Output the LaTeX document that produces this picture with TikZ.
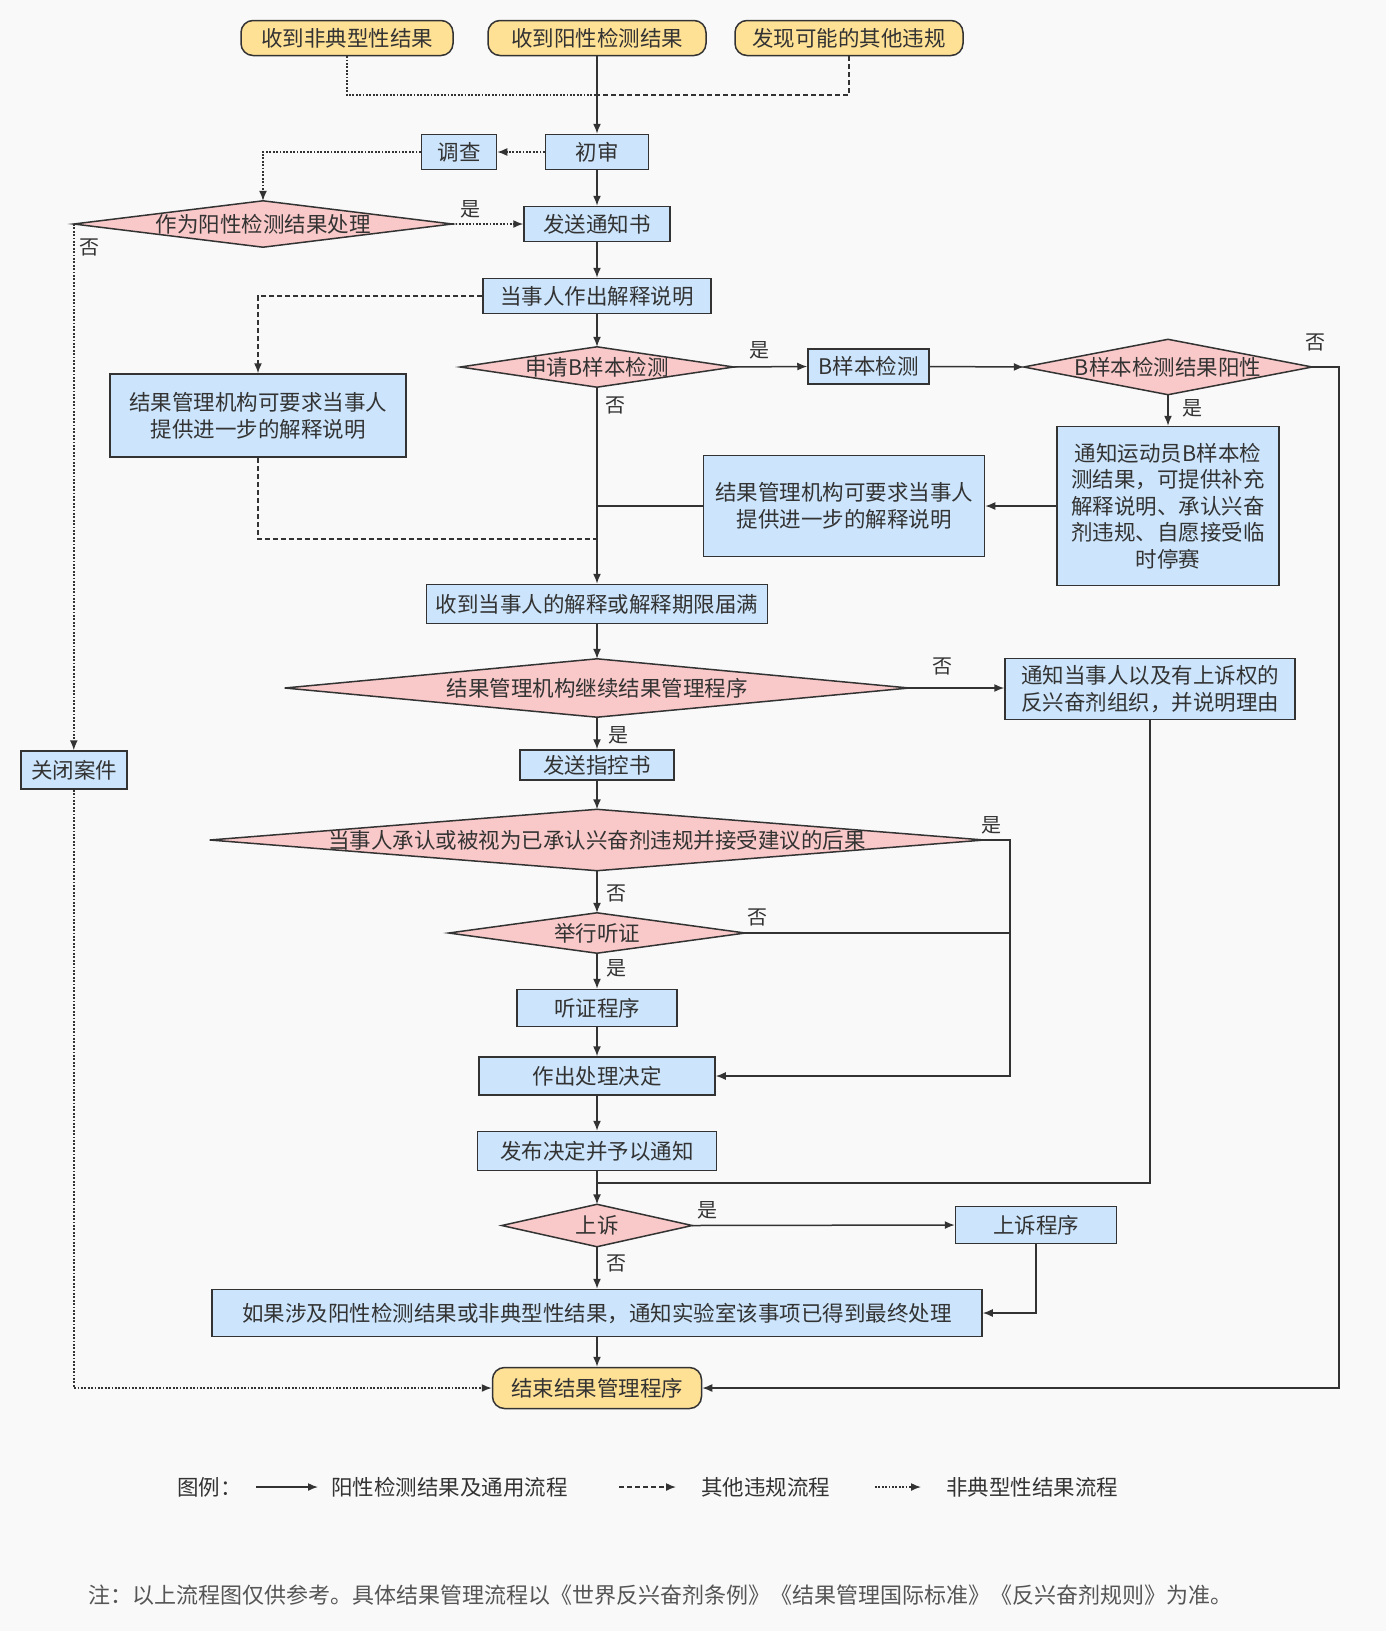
\documentclass[tikz,border=0pt]{standalone}
\usepackage{fontspec}
\setmainfont{Noto Sans CJK SC}
\usetikzlibrary{arrows.meta}
\pgfdeclarelayer{bg}
\pgfsetlayers{bg,main}
\definecolor{bgc}{HTML}{F9F9F9}
\definecolor{lnc}{HTML}{333333}
\definecolor{yel}{HTML}{FFE196}
\definecolor{blu}{HTML}{CCE5FC}
\definecolor{pnk}{HTML}{F9C8C8}
\definecolor{txt}{HTML}{333333}
\definecolor{notec}{HTML}{555555}
\newcommand\mydiam[1]{\path[fill=pnk, draw=lnc, line width=1.5pt, line join=miter] (#1.north) -- (#1.east) -- (#1.south) -- (#1.west) -- cycle;}
\begin{document}
\begin{tikzpicture}[x=1pt,y=-1pt,
  every node/.style={text=txt, font=\fontsize{21.5}{27}\selectfont},
  sz/.style 2 args={minimum width=#1pt, minimum height=#2pt},
  box/.style={draw=lnc, line width=1.5pt, fill=blu, inner sep=0pt, align=center},
  term/.style={box, fill=yel, rounded corners=12pt},
  dtext/.style={inner sep=0pt, align=center},
  lab/.style={font=\fontsize{20}{24}\selectfont, inner sep=0pt},
  conn/.style={draw=lnc, line width=1.5pt},
  arr/.style={conn, -{Latex[length=10pt,width=8pt]}},
  dashl/.style={dash pattern=on 5pt off 3pt},
  dotl/.style={dash pattern=on 1.8pt off 1.6pt},
]
\useasboundingbox (0,0) rectangle (1386,1631);
\begin{pgfonlayer}{bg}
\fill[bgc] (0,0) rectangle (1386,1631);
\end{pgfonlayer}

% nodes
\node[term, sz={212}{35}] (A) at (347,38) {收到非典型性结果};
\node[term, sz={218}{35}] (B) at (597,38) {收到阳性检测结果};
\node[term, sz={228}{35}] (C) at (849,38) {发现可能的其他违规};
\coordinate (m) at (597,95);
\node[box, sz={103}{35}] (cs) at (597,152) {初审};
\node[box, sz={75}{35}] (dc) at (459,152) {调查};
\node[dtext, sz={378}{46}] (d1) at (263,224) {作为阳性检测结果处理};
\node[box, sz={146}{35}] (tz) at (597,224) {发送通知书};
\node[box, sz={228}{35}] (js) at (597,296) {当事人作出解释说明};
\node[box, sz={296}{83}] (lb) at (258,415.5) {结果管理机构可要求当事人\\提供进一步的解释说明};
\node[dtext, sz={273}{40}] (d2) at (597,367) {申请B样本检测};
\node[box, sz={121}{35}] (bj) at (868.5,366.5) {B样本检测};
\node[dtext, sz={288}{55}] (d3) at (1168,367) {B样本检测结果阳性};
\node[box, sz={222}{159}, font=\fontsize{21.5}{26.5}\selectfont] (nb) at (1168,506) {通知运动员B样本检\\测结果，可提供补充\\解释说明、承认兴奋\\剂违规、自愿接受临\\时停赛};
\node[box, sz={281}{101}] (mb) at (844,506) {结果管理机构可要求当事人\\提供进一步的解释说明};
\node[box, sz={341}{39}] (sd) at (597,604) {收到当事人的解释或解释期限届满};
\node[dtext, sz={624}{58}] (d4) at (597,688) {结果管理机构继续结果管理程序};
\node[box, sz={290}{61}] (n2) at (1150,689) {通知当事人以及有上诉权的\\反兴奋剂组织，并说明理由};
\node[box, sz={154}{30}] (zk) at (597,765) {发送指控书};
\node[box, sz={106}{38}] (gb) at (74,770) {关闭案件};
\node[dtext, sz={774}{61}] (d5) at (597,840) {当事人承认或被视为已承认兴奋剂违规并接受建议的后果};
\node[dtext, sz={296}{40}] (d6) at (597,933) {举行听证};
\node[box, sz={160}{37}] (tzc) at (597,1008) {听证程序};
\node[box, sz={236}{38}] (zc) at (597,1076) {作出处理决定};
\node[box, sz={239}{39}] (fb) at (597,1151) {发布决定并予以通知};
\node[dtext, sz={190}{42}] (d7) at (597,1225.5) {上诉};
\node[box, sz={161}{37}] (ss) at (1036,1225) {上诉程序};
\node[box, sz={770}{47}] (rg) at (597,1313) {如果涉及阳性检测结果或非典型性结果，通知实验室该事项已得到最终处理};
\node[term, sz={209}{41}] (fin) at (597,1388) {结束结果管理程序};

\begin{pgfonlayer}{bg}
\mydiam{d1}\mydiam{d2}\mydiam{d3}\mydiam{d4}\mydiam{d5}\mydiam{d6}\mydiam{d7}
\end{pgfonlayer}

% connectors
\draw[conn, dotl] (A.south) |- (m);
\draw[conn, dashl] (C.south) |- (m);
\draw[arr] (B.south) -- (cs.north);
\draw[arr, dotl] (cs.west) -- (dc.east);
\draw[arr, dotl] (dc.west) -| (d1.north);
\draw[arr, dotl] (d1.east) -- (tz.west);
\draw[arr, dotl] (d1.west) -- (d1.west |- gb.north);
\draw[arr] (cs.south) -- (tz.north);
\draw[arr] (tz.south) -- (js.north);
\draw[arr, dashl] (js.west) -| (lb.north);
\draw[arr] (js.south) -- (d2.north);
\draw[arr] (d2.east) -- (bj.west);
\draw[arr] (bj.east) -- (d3.west);
\draw[arr] (d3.south) -- (nb.north);
\coordinate (r1) at (1339,367);
\draw[arr] (d3.east) -- (r1) |- (fin.east);
\draw[arr] (nb.west) -- (mb.east);
\draw[conn] (mb.west) -- (mb.west -| d2.south);
\coordinate (dj) at (597,539);
\draw[conn, dashl] (lb.south) |- (dj);
\draw[arr] (d2.south) -- (sd.north);
\draw[arr] (sd.south) -- (d4.north);
\draw[arr] (d4.east) -- (d4.east -| n2.west);
\coordinate (j2) at (597,1183);
\draw[conn] (n2.south) |- (j2);
\draw[arr] (d4.south) -- (zk.north);
\draw[arr] (zk.south) -- (d5.north);
\coordinate (r2) at (1010,840);
\draw[arr] (d5.east) -- (r2) |- (zc.east);
\draw[arr] (d5.south) -- (d6.north);
\draw[conn] (d6.east) -- (d6.east -| r2);
\draw[arr] (d6.south) -- (tzc.north);
\draw[arr] (tzc.south) -- (zc.north);
\draw[arr] (zc.south) -- (fb.north);
\draw[arr] (fb.south) -- (d7.north);
\draw[arr] (d7.east) -- (ss.west);
\draw[arr] (d7.south) -- (rg.north);
\draw[arr] (ss.south) |- (rg.east);
\draw[arr] (rg.south) -- (fin.north);
\draw[arr, dotl] (gb.south) |- (fin.west);

% labels
\node[lab] (y1) at (470,209) {是};
\node[lab] (n1) at (89,247) {否};
\node[lab] (y2) at (759,350) {是};
\node[lab] (n2l) at (615,405) {否};
\node[lab] (y3) at (1192,408) {是};
\node[lab] (n3) at (1315,342) {否};
\node[lab] (n4) at (942,666) {否};
\node[lab] (y4) at (618,735) {是};
\node[lab] (y5) at (991,825) {是};
\node[lab] (n5) at (616,893) {否};
\node[lab] (n6) at (757,917) {否};
\node[lab] (y6) at (616,968) {是};
\node[lab] (y7) at (707,1210) {是};
\node[lab] (n7) at (616,1263) {否};

% legend
\node[anchor=west, inner sep=0pt] (lg) at (177,1487) {图例：};
\coordinate (la1) at (256,1487); \coordinate (lb1) at (318,1487);
\draw[arr] (la1) -- (lb1);
\node[anchor=west, inner sep=0pt] (lt1) at (331,1487) {阳性检测结果及通用流程};
\coordinate (la2) at (619,1487); \coordinate (lb2) at (676,1487);
\draw[arr, dashl] (la2) -- (lb2);
\node[anchor=west, inner sep=0pt] (lt2) at (701,1487) {其他违规流程};
\coordinate (la3) at (875,1487); \coordinate (lb3) at (921,1487);
\draw[arr, dotl] (la3) -- (lb3);
\node[anchor=west, inner sep=0pt] (lt3) at (946,1487) {非典型性结果流程};

% note
\node[anchor=west, inner sep=0pt, text=notec, font=\fontsize{22}{26}\selectfont] (note) at (88,1595) {注：以上流程图仅供参考。具体结果管理流程以《世界反兴奋剂条例》《结果管理国际标准》《反兴奋剂规则》为准。};
\end{tikzpicture}
\end{document}
